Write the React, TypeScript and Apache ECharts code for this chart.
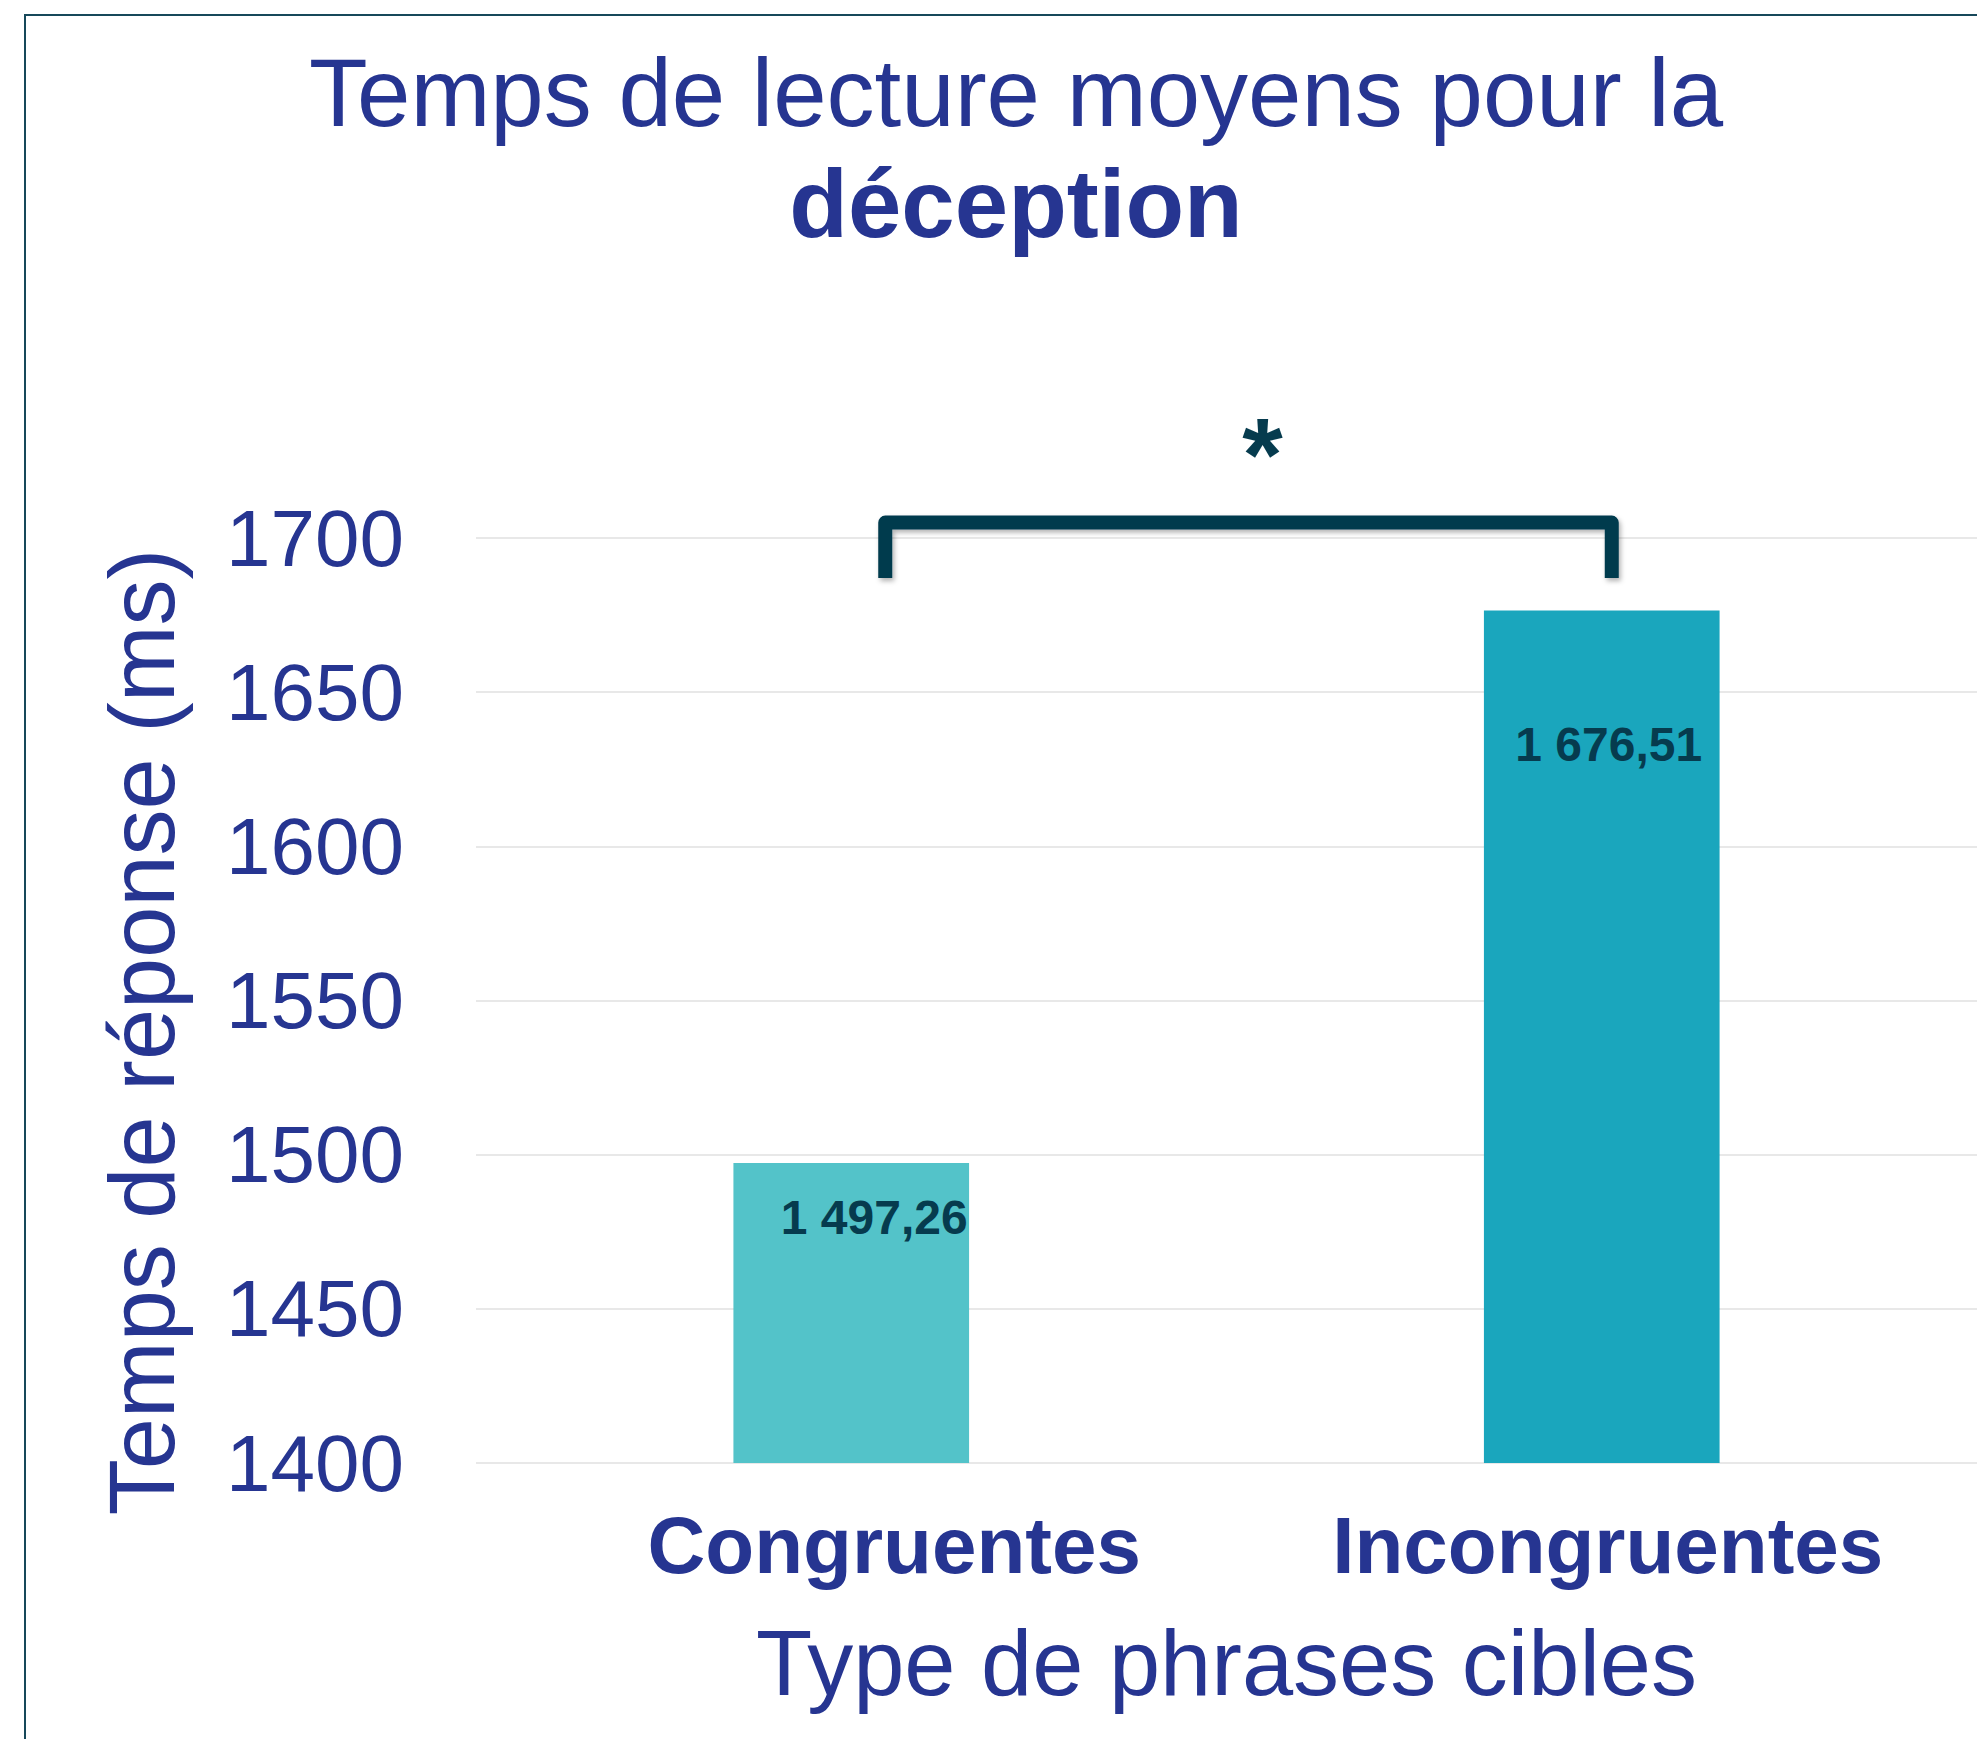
import React, { useEffect, useRef } from "react";
import * as echarts from "echarts";

const categories = ["Congruentes", "Incongruentes"];
const values = [1497.26, 1676.51];
const barColors = ["#53c3c9", "#1aa6bd"];
const yMin = 1400;
const yMax = 1700;
const yInterval = 50;
const titleLine1 = "Temps de lecture moyens pour la";
const titleLine2 = "déception";
const xAxisName = "Type de phrases cibles";
const yAxisName = "Temps de réponse (ms)";
const significance = "*";
// bracket spans category 0 to category 1, top and leg ends in data units
const bracketFrom = 0;
const bracketTo = 1;
const bracketTopValue = 1705;
const bracketLegValue = 1687;

const NAVY = "#263591";
const DARK = "#063b4e";
const FONT = "'Liberation Sans', Arial, sans-serif";

function frNumber(v: number): string {
  const [i, d] = v.toFixed(2).split(".");
  const grouped = i.replace(/\B(?=(\d{3})+(?!\d))/g, " ");
  return grouped + "," + d;
}

export default function App() {
  const ref = useRef<HTMLDivElement>(null);
  useEffect(() => {
    if (!ref.current) return;
    const chart = echarts.init(ref.current, null, { renderer: "svg" });
    const labelOffsets = [
      [23, 25],
      [7, 105],
    ];
    const option: any = {
      animation: false,
      backgroundColor: "#ffffff",
      title: {
        text: titleLine1 + "\n{b|" + titleLine2 + "}",
        left: 1011,
        top: 32,
        textAlign: "center",
        textStyle: {
          fontFamily: FONT,
          fontSize: 96,
          fontWeight: "normal",
          color: NAVY,
          lineHeight: 111,
          rich: {
            b: {
              fontFamily: FONT,
              fontSize: 96,
              fontWeight: "bold",
              color: NAVY,
              lineHeight: 111,
            },
          },
        },
      },
      grid: { left: 476, right: 0, top: 538, bottom: 276, containLabel: false },
      xAxis: {
        type: "category",
        data: categories,
        axisLine: { show: false },
        axisTick: { show: false },
        axisLabel: {
          margin: 42,
          interval: 0,
          formatter: (v: string, idx: number) => "{c" + idx + "|" + v + "}",
          rich: {
            c0: { fontFamily: FONT, fontSize: 80, fontWeight: "bold", color: NAVY, lineHeight: 80, padding: [0, 0, 0, 86] },
            c1: { fontFamily: FONT, fontSize: 80, fontWeight: "bold", color: NAVY, lineHeight: 80, padding: [0, 0, 0, 12] },
          },
        },
        name: xAxisName,
        nameLocation: "middle",
        nameGap: 154,
        nameTextStyle: { fontFamily: FONT, fontSize: 92, color: NAVY, lineHeight: 92 },
      },
      yAxis: {
        type: "value",
        min: yMin,
        max: yMax,
        interval: yInterval,
        axisLine: { show: false },
        axisTick: { show: false },
        splitLine: { lineStyle: { color: "#e8e8e8", width: 2 } },
        axisLabel: {
          margin: 72,
          fontFamily: FONT,
          fontSize: 80,
          color: NAVY,
          formatter: (v: number) => String(v),
        },
      },
      series: [
        {
          type: "bar",
          barWidth: "31.4%",
          data: values.map((v, i) => ({
            value: v,
            itemStyle: { color: barColors[i] },
            label: {
              show: true,
              position: "insideTop",
              offset: labelOffsets[i],
              formatter: () => frNumber(v),
              fontFamily: FONT,
              fontSize: 48,
              fontWeight: "bold",
              color: DARK,
            },
          })),
        },
      ],
    };
    chart.setOption(option);

    const pL = chart.convertToPixel({ gridIndex: 0 }, [bracketFrom, bracketTopValue]);
    const pR = chart.convertToPixel({ gridIndex: 0 }, [bracketTo, bracketTopValue]);
    const pLeg = chart.convertToPixel({ gridIndex: 0 }, [bracketFrom, bracketLegValue]);
    const xl = pL[0] + 34;
    const xr = pR[0] + 10;
    const yt = pL[1];
    const yb = pLeg[1];
    chart.setOption({
      graphic: [
        {
          type: "rect",
          shape: { x: 25, y: 15, width: 3000, height: 3000 },
          style: { fill: "none", stroke: "#17485a", lineWidth: 2 },
          silent: true,
        },
        {
          type: "polyline",
          shape: { points: [[xl, yb], [xl, yt], [xr, yt], [xr, yb]] },
          style: {
            stroke: DARK,
            lineWidth: 14,
            lineJoin: "round",
            fill: "none",
            shadowBlur: 5,
            shadowOffsetX: 2,
            shadowOffsetY: 3,
            shadowColor: "rgba(0,0,0,0.3)",
          },
        },
        {
          type: "text",
          x: (xl + xr) / 2 + 14,
          y: 455,
          style: {
            text: significance,
            fontFamily: FONT,
            fontSize: 104,
            fontWeight: "bold",
            fill: DARK,
            align: "center",
            verticalAlign: "middle",
          },
        },
        {
          type: "text",
          x: 142,
          y: 1032,
          rotation: Math.PI / 2,
          style: {
            text: yAxisName,
            fontFamily: FONT,
            fontSize: 92,
            fill: NAVY,
            align: "center",
            verticalAlign: "middle",
          },
        },
      ],
    });
    return () => chart.dispose();
  }, []);
  return (
    <div
      ref={ref}
      style={{ position: "fixed", left: 0, top: 0, width: 1977, height: 1739, background: "#fff" }}
    />
  );
}
